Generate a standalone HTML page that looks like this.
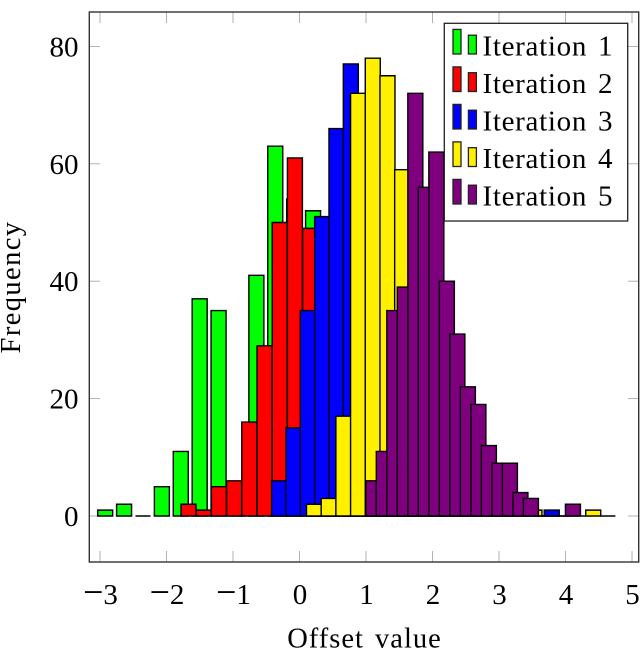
<!DOCTYPE html>
<html lang="en">
<head>
<meta charset="utf-8">
<title>Offset value histogram</title>
<style>
  html, body { margin: 0; padding: 0; background: #fff; }
  svg { display: block; font-family: "Liberation Serif", serif; }
  text { fill: #000; }
</style>
</head>
<body>
<svg id="chart" xmlns="http://www.w3.org/2000/svg" width="640" height="649" viewBox="0 0 640 649">
  <rect x="0" y="0" width="640" height="649" fill="#fff"/>
  <g id="ticks"></g>
  <g id="bars"></g>
  <rect x="89.3" y="12" width="549.4" height="550" fill="none" stroke="#333" stroke-width="1.4"/>
  <g id="tick-labels"></g>
  <text x="364.5" y="647.5" text-anchor="middle" font-size="28.5" letter-spacing="1" word-spacing="3">Offset value</text>
  <text transform="translate(20 287) rotate(-90)" text-anchor="middle" font-size="28.5" letter-spacing="1.4">Frequency</text>
  <g id="legend"></g>
</svg>
<script>
const xTicks = [-3, -2, -1, 0, 1, 2, 3, 4, 5];
const yTicks = [0, 20, 40, 60, 80];
const xTickLabels = ['\u22123', '\u22122', '\u22121', '0', '1', '2', '3', '4', '5'];
const yTickLabels = ['0', '20', '40', '60', '80'];

const seriesNames = ['Iteration 1', 'Iteration 2', 'Iteration 3', 'Iteration 4', 'Iteration 5'];
const seriesColors = ['#00ff00', '#ff0000', '#0000ff', '#fff000', '#7f007f'];

const iteration1Counts = [1, 2, 0, 5, 11, 37, 35, 4, 41, 63, 54, 52, 24, 10, 5, 2, 1];
const iteration2Counts = [2, 1, 5, 6, 16, 29, 50, 61, 49, 40, 33, 22, 12, 5, 2, 1];
const iteration3Counts = [6, 15, 35, 51, 66, 77, 70, 62, 50, 40, 24, 16, 10, 5, 3, 1, 0, 0, 0, 1];
const iteration4Counts = [2, 3, 17, 72, 78, 75, 59, 45, 30, 25, 12, 8, 4, 3, 2, 1, 0, 0, 0, 1, 0];
const iteration5Counts = [6, 11, 35, 39, 72, 56, 62, 40, 31, 22, 19, 12, 9, 9, 4, 3, 0, 0, 0, 2];

const seriesCounts = [iteration1Counts, iteration2Counts, iteration3Counts, iteration4Counts, iteration5Counts];
const binStarts = [-3.035, -1.782, -0.42, 0.105, 0.997];
const binSteps = [0.2842, 0.2286, 0.2158, 0.221, 0.158];

const barWidthUnits = 0.2256;
const xZero = 299.5, xUnit = 66.5;
const yZero = 516, yUnit = 5.87;
function xScale(v) { return xZero + v * xUnit; }
function yScale(v) { return yZero - v * yUnit; }

const SVG_NS = 'http://www.w3.org/2000/svg';
function make(tag, parent, attrs) {
  const el = document.createElementNS(SVG_NS, tag);
  for (const k in attrs) el.setAttribute(k, attrs[k]);
  parent.appendChild(el);
  return el;
}

const tickGroup = document.getElementById('ticks');
const labelGroup = document.getElementById('tick-labels');
const barGroup = document.getElementById('bars');
const legendGroup = document.getElementById('legend');
const tickStyle = { stroke: '#aaa', 'stroke-width': 0.9 };

xTicks.forEach(function (t, i) {
  const x = xScale(t);
  [[562, 551], [12, 23]].forEach(function (p) {
    const tick = make('line', tickGroup, Object.assign({ x1: x, x2: x, y1: p[0], y2: p[1] }, tickStyle));
    
    
  });
  const label = make('text', labelGroup, {
    x: x + 0.5,
    y: 604,
    'text-anchor': 'middle',
    'font-size': 29
  });
  const text = xTickLabels[i];
  if (t < 0) {
    const minus = make('tspan', label, { 'font-size': 36 });
    minus.textContent = text.charAt(0);
    const digit = make('tspan', label, {});
    digit.textContent = text.slice(1);
  } else {
    label.textContent = text;
  }
  
  
});

yTicks.forEach(function (t, i) {
  const y = yScale(t);
  [[89, 100], [639, 628]].forEach(function (p) {
    const tick = make('line', tickGroup, Object.assign({ x1: p[0], x2: p[1], y1: y, y2: y }, tickStyle));
    
    
  });
  const label = make('text', labelGroup, { x: 78.5, y: y + 10, 'text-anchor': 'end', 'font-size': 29 });
  label.textContent = yTickLabels[i];
  
  
});

seriesCounts.forEach(function (counts, s) {
  counts.forEach(function (count, k) {
    const left = binStarts[s] + k * binSteps[s];
    const x0 = xScale(left);
    const x1 = xScale(left + barWidthUnits);
    const bar = make('path', barGroup, {
      d: 'M' + x0 + ' ' + yScale(0) + 'V' + yScale(count) + 'H' + x1 + 'V' + yScale(0) + 'Z',
      fill: seriesColors[s],
      stroke: '#000',
      'stroke-width': 1.4
    });
    
    
  });
});

const legendBox = make('rect', legendGroup, { x: 444.3, y: 23.3, width: 183.4, height: 197.7, fill: '#fff', stroke: '#222', 'stroke-width': 1.3 });



seriesNames.forEach(function (name, i) {
  const rowY = 54 + i * 37.5;
  const tall = make('rect', legendGroup, { x: 453, y: rowY - 24.6, width: 8, height: 24.6, fill: seriesColors[i], stroke: '#222', 'stroke-width': 1.3 });
  
  
  const short = make('rect', legendGroup, { x: 468.4, y: rowY - 18.8, width: 8, height: 18.8, fill: seriesColors[i], stroke: '#222', 'stroke-width': 1.3 });
  
  
  const label = make('text', legendGroup, { x: 482.5, y: rowY + 1.5, 'font-size': 29, 'letter-spacing': 0.7, 'word-spacing': 3 });
  label.textContent = name;
  
  
});
</script>
</body>
</html>
